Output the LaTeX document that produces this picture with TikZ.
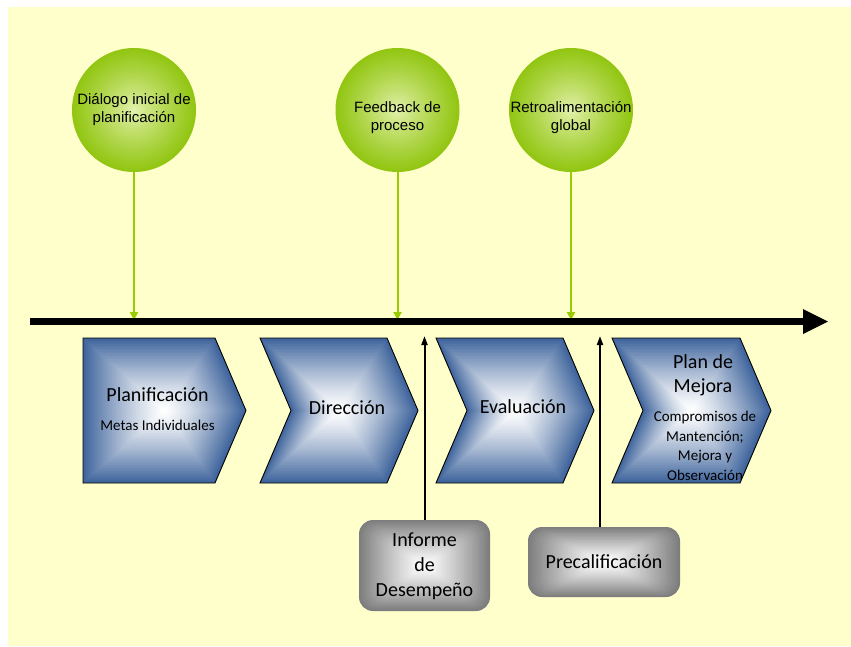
\documentclass[tikz,border=0pt]{standalone}
\usepackage{fontspec}
\setmainfont{Carlito}
\newfontfamily\arialf{Liberation Sans}
\usetikzlibrary{arrows.meta}

\definecolor{bgyellow}{RGB}{255,255,204}
\definecolor{chevblue}{RGB}{62,100,156}
\definecolor{ringgreen}{RGB}{146,198,18}
\definecolor{coregreen}{RGB}{232,244,182}
\definecolor{linegreen}{RGB}{153,204,0}
\definecolor{boxgray}{RGB}{125,125,125}

% chevron outline, centred on the origin:
% #1 path options, #2 half width, #3 shoulder x, #4 notch x, #5 half height
\newcommand\chevpath[5]{%
  \path[#1] (-#2,-#5) -- (#3,-#5) -- (#2,0) -- (#3,#5) -- (-#2,#5) -- (#4,0) -- cycle;}

% chevron with a centre-out blue-to-white gradient
% #1,#2 centre, #3 half width, #4 shoulder x, #5 notch x
\newcommand\chevron[5]{%
  \foreach \k in {0,...,47}{%
    \pgfmathsetmacro\s{1-\k/48}%
    \pgfmathsetmacro\p{100*\s^1.3}%
    \begin{scope}[shift={(#1,#2)},scale=\s]
      \chevpath{fill=chevblue!\p!white}{#3}{#4}{#5}{72.5}
    \end{scope}}%
  \begin{scope}[shift={(#1,#2)}]
    \chevpath{draw=black,line width=0.9pt,line join=miter}{#3}{#4}{#5}{72.5}
  \end{scope}}

% green disc with a light core: #1,#2 centre
\newcommand\greendisc[2]{%
  \foreach \k in {0,...,39}{%
    \pgfmathsetmacro\s{1-\k/40}%
    \pgfmathsetmacro\p{100*\s^0.8}%
    \fill[ringgreen!\p!coregreen] (#1,#2) circle[radius=62*\s];}}

% grey rounded panel with a white core: #1,#2 centre, #3 half width, #4 half height
\newcommand\graypanel[4]{%
  \foreach \k in {0,...,39}{%
    \pgfmathsetmacro\s{1-\k/40}%
    \pgfmathsetmacro\p{100*\s^1.2}%
    \pgfmathsetmacro\r{14*\s}%
    \begin{scope}[shift={(#1,#2)},scale=\s]
      \fill[boxgray!\p!white,rounded corners=\r pt] (-#3,-#4) rectangle (#3,#4);
    \end{scope}}}

\tikzset{
  disc/.style={circle,minimum size=124pt,inner sep=0pt},
  disctext/.style={font=\arialf\fontsize{15}{18}\selectfont,align=center,text=black},
  bigtext/.style={font=\fontsize{20}{24}\selectfont,align=center,text=black},
  smalltext/.style={font=\fontsize{15}{19.5}\selectfont,align=center,text=black},
  panel/.style={rectangle,inner sep=0pt},
  greenline/.style={draw=linegreen,line width=2pt,-{Triangle[length=8pt,width=8pt]}},
  blackline/.style={draw=black,line width=2pt,-{Triangle[length=9pt,width=6pt]}},
}

\begin{document}
\begin{tikzpicture}[x=1pt,y=-1pt]
  \useasboundingbox (0,0) rectangle (851,646);
  \fill[white] (0,0) rectangle (851,646);
  \fill[bgyellow] (8,7) rectangle (851,646);

  % milestone discs
  \greendisc{134}{110}
  \greendisc{397.5}{110}
  \greendisc{571}{110}
  \node[disc] (c1) at (134,110) {};
  \node[disc] (c2) at (397.5,110) {};
  \node[disc] (c3) at (571,110) {};
  \node[disctext] (d1) at (134,110) {Diálogo inicial de\\planificación};
  \node[disctext] (d2) at (397.5,118) {Feedback de\\proceso};
  \node[disctext] (d3) at (571,118) {Retroalimentación\\global};

  % drop points on the time line
  \coordinate (g1) at (134,320);
  \coordinate (g2) at (397.5,320);
  \coordinate (g3) at (571,320);
  \draw[greenline] (c1.south) -- (g1);
  \draw[greenline] (c2.south) -- (g2);
  \draw[greenline] (c3.south) -- (g3);

  % time line
  \coordinate (ts) at (30,321.5);
  \coordinate (th) at (803,321.5);
  \draw[line width=7pt] (ts) -- (th);
  \fill[black] (803,309) -- (828,321.5) -- (803,334) -- cycle;

  % process chevrons
  \chevron{164.5}{410.5}{81.5}{50.5}{-81.5}
  \chevron{339}{410.5}{79}{48}{-48}
  \chevron{515}{410.5}{79}{48}{-48}
  \chevron{691.5}{410.5}{79.5}{48.5}{-48.5}

  \node[bigtext] (h1) at (157.5,395) {Planificación};
  \node[smalltext] (s1) at (157.5,425) {Metas Individuales};
  \node[bigtext] (h2) at (347,408) {Dirección};
  \node[bigtext] (h3) at (523,407) {Evaluación};
  \node[bigtext] (h4) at (703,375) {Plan de\\Mejora};
  \node[smalltext] (s4) at (705,446) {Compromisos de\\Mantención;\\Mejora y\\Observación};

  % input panels
  \graypanel{424.5}{565.5}{65.5}{45.5}
  \graypanel{604}{562}{76}{35}
  \node[panel,minimum width=131pt,minimum height=91pt,bigtext,font=\fontsize{20}{25}\selectfont] (b1) at (424.5,566) {Informe\\de\\Desempeño};
  \node[panel,minimum width=152pt,minimum height=70pt,bigtext] (b2) at (604,562) {Precalificación};

  \coordinate (u1) at (424.5,336);
  \coordinate (u2) at (600,336);
  \draw[blackline] (b1.north) -- (u1);
  \draw[blackline] (b2.north -| u2) -- (u2);
\end{tikzpicture}
\end{document}
